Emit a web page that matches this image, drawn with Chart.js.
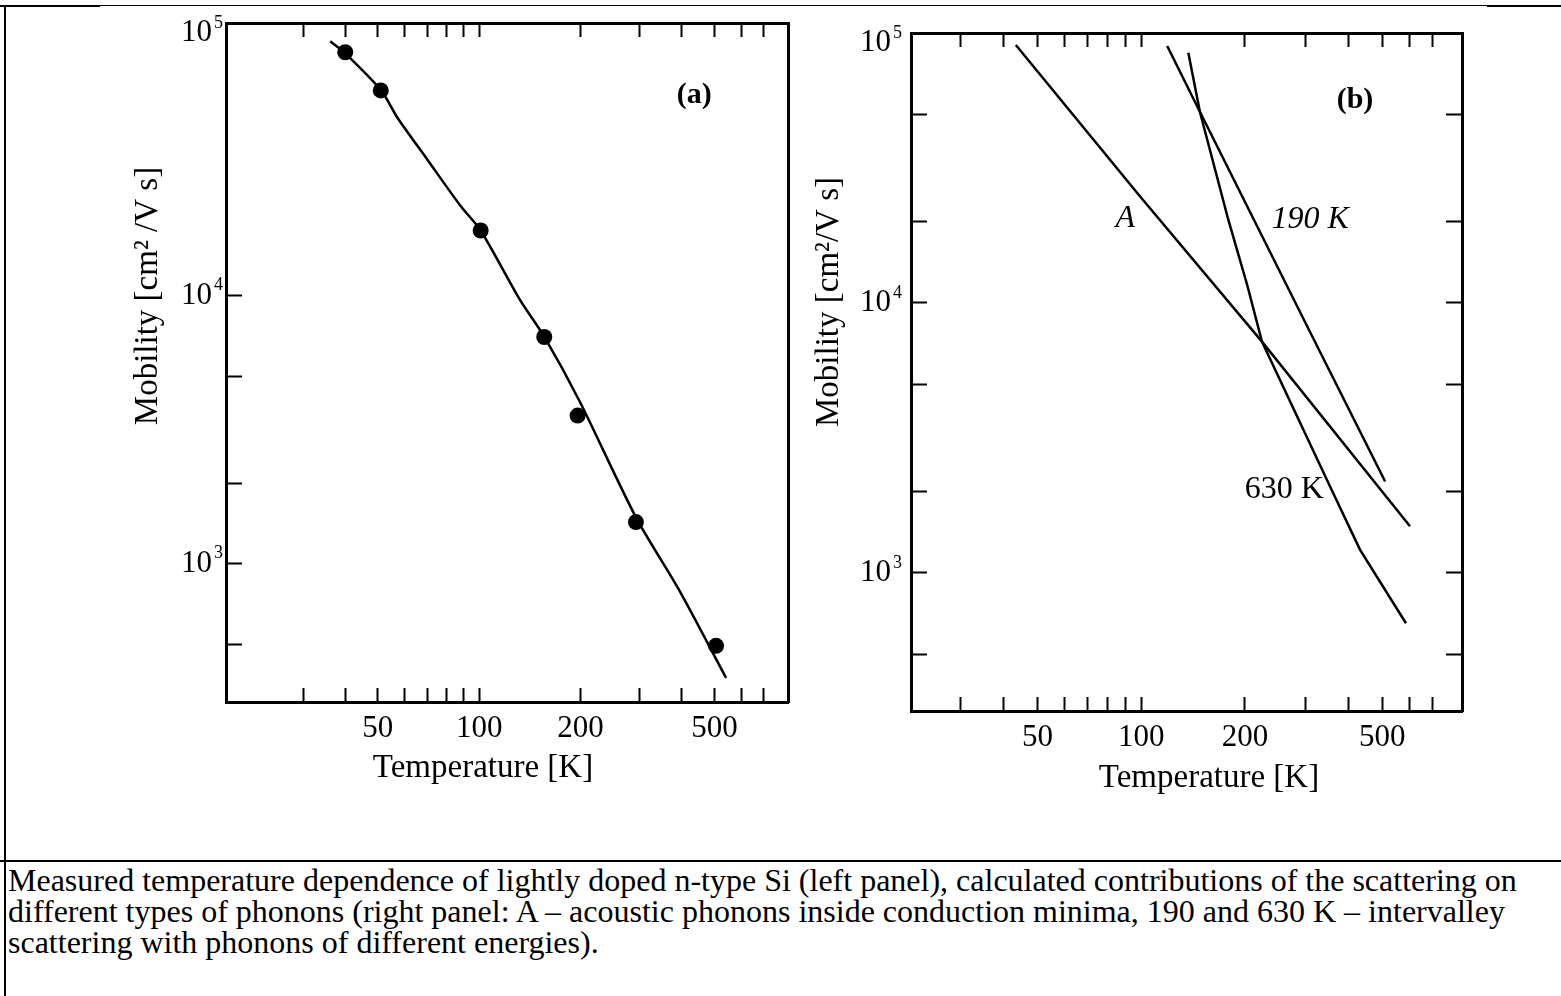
<!DOCTYPE html>
<html>
<head>
<meta charset="utf-8">
<script src="https://cdn.jsdelivr.net/npm/chart.js@4.4.1/dist/chart.umd.min.js"></script>
<style>
  html, body { margin: 0; padding: 0; background: #fff; }
  #page { position: relative; width: 1561px; height: 996px; overflow: hidden; background: #fff; }
  .rule { position: absolute; background: #000; }
  canvas { position: absolute; top: 0; }
  #caption {
    position: absolute; left: 8px; top: 865px; white-space: nowrap;
    font-family: "Liberation Serif", "Times New Roman", serif;
    font-size: 32px; line-height: 31px; color: #000;
  }
</style>
</head>
<body>
<div id="page">
  <div class="rule" style="left:0;top:5px;width:1561px;height:1px"></div>
  <div class="rule" style="left:0;top:5px;width:100px;height:2px"></div>
  <div class="rule" style="left:1487px;top:5px;width:74px;height:2px"></div>
  <div class="rule" style="left:4px;top:5px;width:2px;height:991px"></div>
  <div class="rule" style="left:0;top:860px;width:1561px;height:2px"></div>
  <canvas id="panelA" width="800" height="850" style="left:0;width:800px;height:850px"></canvas>
  <canvas id="panelB" width="761" height="850" style="left:800px;width:761px;height:850px"></canvas>
  <div id="caption">Measured temperature dependence of lightly doped n-type Si (left panel), calculated contributions of the scattering on<br>different types of phonons (right panel: A – acoustic phonons inside conduction minima, 190 and 630 K – intervalley<br>scattering with phonons of different energies).</div>
</div>
<script>
Chart.defaults.font.family = '"Liberation Serif", "Times New Roman", serif';
Chart.defaults.color = '#000';

// axis ticks
const tempTicks = [30, 40, 50, 60, 70, 80, 90, 100, 200, 300, 400, 500, 600, 700];
const tempLabels = [50, 100, 200, 500];
const mobilityDecades = [1e3, 1e4, 1e5];
const mobilityTicksA = [500, 1000, 2000, 5000, 10000];
const mobilityTicksB = [500, 1000, 2000, 5000, 10000, 20000, 50000];

// panel (a): measured points and the fitted curve
const measuredT = [40, 51, 101, 156, 196, 292, 505];
const measuredMu = [80900, 58300, 17500, 7010, 3570, 1430, 494];
const fitT = [36.1, 39.8, 51.2, 57.1, 70.1, 87.8, 101, 132, 156, 199, 292, 395, 541];
const fitMu = [88900, 80700, 58200, 46200, 32200, 21700, 17500, 9660, 7030, 4020, 1490, 786, 375];

// panel (b): calculated contributions
const acousticT = [43.3, 99.3, 224, 602];
const acousticMu = [90300, 24800, 7190, 1490];
const iv190T = [119, 148, 305, 510];
const iv190Mu = [89500, 51100, 8060, 2180];
const iv630T = [137, 148, 179, 203, 224, 353, 431, 586];
const iv630Mu = [84500, 51100, 20300, 11660, 7190, 2090, 1220, 651];

const FAM = '"Liberation Serif", "Times New Roman", serif';

function pts(xs, ys) {
  return xs.map((x, i) => ({ x: x, y: ys[i] }));
}

// draws the 10^n labels, in-plot notes and axis titles
const figureText = {
  id: 'figureText',
  afterDraw(chart, args, o) {
    const ctx = chart.ctx;
    const a = chart.chartArea;
    const xs = chart.scales.x, ys = chart.scales.y;
    ctx.save();
    ctx.fillStyle = '#000';
    ctx.textBaseline = 'middle';

    mobilityDecades.forEach(v => {
      const py = Math.max(ys.getPixelForValue(v), a.top + 10);
      const xr = a.left - o.decadeGap;
      ctx.font = '31px ' + FAM;
      ctx.textAlign = 'right';
      ctx.fillText('10', xr, py);
      ctx.font = '18px ' + FAM;
      ctx.textAlign = 'left';
      ctx.fillText(String(Math.round(Math.log10(v))), xr + 2, py - 10);
    });

    o.notes.forEach(n => {
      ctx.font = n.font + ' ' + FAM;
      ctx.textAlign = 'center';
      ctx.fillText(n.text, xs.getPixelForValue(n.x), ys.getPixelForValue(n.y));
    });

    ctx.font = '33px ' + FAM;
    ctx.textAlign = 'center';
    ctx.fillText(o.xTitle.text, (a.left + a.right) / 2 + o.xTitle.dx, a.bottom + o.xTitle.dy);
    ctx.translate(a.left - o.yTitle.dx, a.top + o.yTitle.dy);
    ctx.rotate(-Math.PI / 2);
    ctx.fillText(o.yTitle.text, 0, 0);
    ctx.restore();
  }
};

function logAxis(dir, position, min, max, ticks, size, opts) {
  const isX = dir === 'x';
  return {
    type: 'logarithmic',
    axis: dir,
    position: position,
    min: min,
    max: max,
    bounds: 'data',
    afterBuildTicks: s => { s.ticks = ticks.map(v => ({ value: v })); },
    afterFit: s => { if (isX) s.height = size; else s.width = size; },
    border: { display: true, color: '#000', width: 3 },
    grid: {
      display: opts.showTicks,
      drawOnChartArea: false,
      drawTicks: true,
      tickLength: -(isX ? 14 : 16),
      tickWidth: 2,
      tickColor: '#000'
    },
    ticks: opts.labels ? {
      display: true,
      autoSkip: false,
      maxRotation: 0,
      padding: 22,
      font: { size: 31 },
      callback: v => opts.labels.includes(v) ? String(v) : ''
    } : { display: false, autoSkip: false }
  };
}

function makePanel(id, p) {
  return new Chart(document.getElementById(id), {
    type: 'scatter',
    data: { datasets: p.datasets },
    options: {
      responsive: false,
      animation: false,
      events: [],
      layout: { padding: 0, autoPadding: false },
      scales: {
        x: logAxis('x', 'bottom', p.xMin, p.xMax, tempTicks, p.bottom, { showTicks: true, labels: tempLabels }),
        x2: logAxis('x', 'top', p.xMin, p.xMax, tempTicks, p.top, { showTicks: true }),
        y: logAxis('y', 'left', p.yMin, p.yMax, p.leftTicks, p.left, { showTicks: true }),
        y2: logAxis('y', 'right', p.yMin, p.yMax, p.rightTicks, p.right, { showTicks: p.rightShow })
      },
      plugins: {
        legend: { display: false },
        tooltip: { enabled: false },
        figureText: p.text
      }
    },
    plugins: [figureText]
  });
}

function lineStyle(tension) {
  return { showLine: true, borderColor: '#000', borderWidth: 2.5, pointRadius: 0, tension: tension };
}

makePanel('panelA', {
  xMin: 17.7, xMax: 826, yMin: 305, yMax: 104000,
  left: 226, top: 23, right: 12, bottom: 148,
  leftTicks: mobilityTicksA, rightTicks: mobilityTicksA, rightShow: false,
  datasets: [
    Object.assign({ data: pts(fitT, fitMu) }, lineStyle(0.25)),
    { data: pts(measuredT, measuredMu), showLine: false, pointRadius: 8, pointBackgroundColor: '#000', pointBorderWidth: 0 }
  ],
  text: {
    decadeGap: 14,
    notes: [{ text: '(a)', x: 435, y: 55700, font: 'bold 30px' }],
    xTitle: { text: 'Temperature [K]', dx: -24, dy: 66 },
    yTitle: { text: 'Mobility [cm² /V s]', dx: 78, dy: 273 }
  }
});

makePanel('panelB', {
  xMin: 21.5, xMax: 852, yMin: 308, yMax: 100000,
  left: 111, top: 33, right: 99, bottom: 139,
  leftTicks: mobilityTicksB, rightTicks: mobilityTicksB, rightShow: true,
  datasets: [
    Object.assign({ data: pts(acousticT, acousticMu) }, lineStyle(0)),
    Object.assign({ data: pts(iv190T, iv190Mu) }, lineStyle(0)),
    Object.assign({ data: pts(iv630T, iv630Mu) }, lineStyle(0))
  ],
  text: {
    decadeGap: 20,
    notes: [
      { text: '(b)', x: 417, y: 56500, font: 'bold 30px' },
      { text: 'A', x: 89.9, y: 20500, font: 'italic 32px' },
      { text: '190 K', x: 309, y: 20300, font: 'italic 32px' },
      { text: '630 K', x: 260, y: 2030, font: '32px' }
    ],
    xTitle: { text: 'Temperature [K]', dx: 22.5, dy: 67 },
    yTitle: { text: 'Mobility [cm²/V s]', dx: 82, dy: 269 }
  }
});
</script>
</body>
</html>
